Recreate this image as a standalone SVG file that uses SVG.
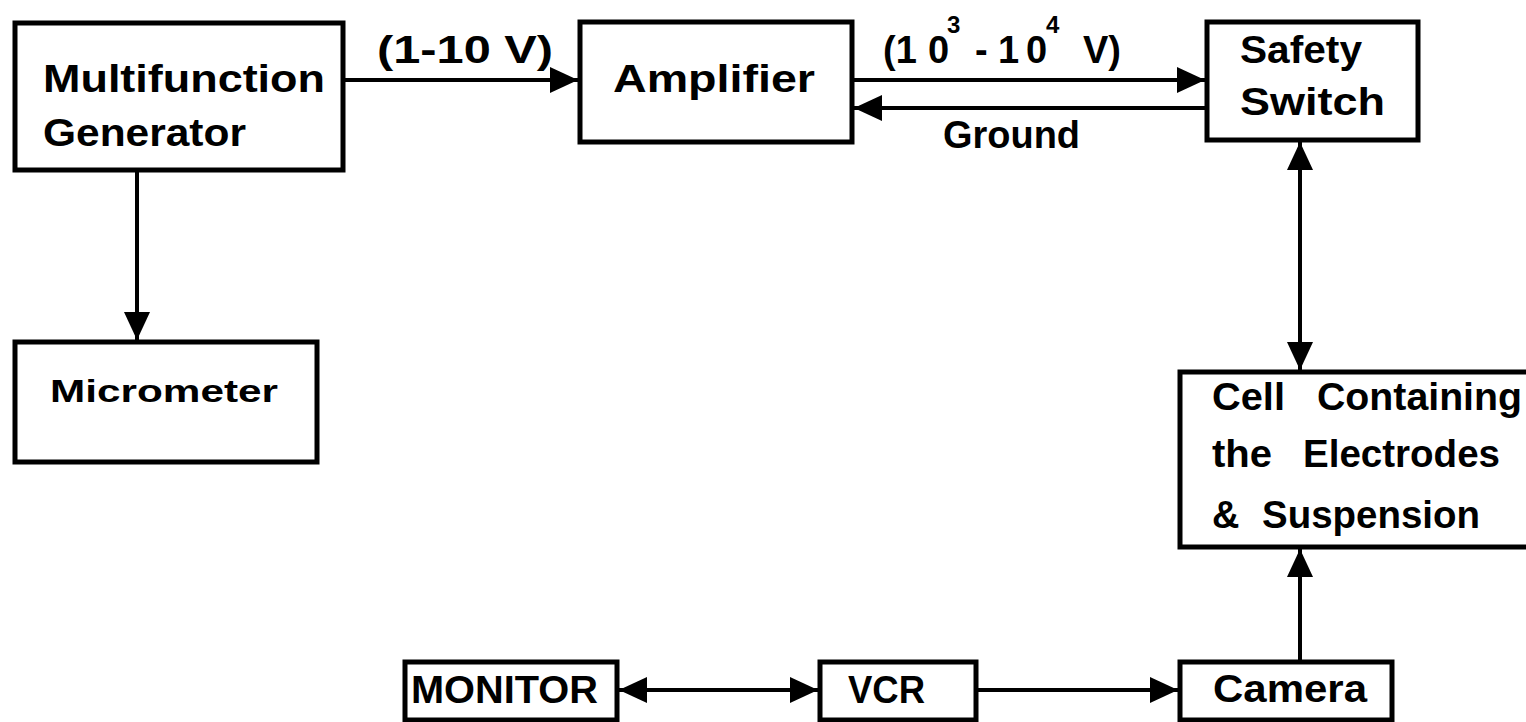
<svg xmlns="http://www.w3.org/2000/svg" width="1526" height="722" viewBox="0 0 1526 722">
<style>
.box{fill:#fff;stroke:#000;stroke-width:5}
.lbl{font-family:"Liberation Sans",Arial,sans-serif;font-weight:bold;font-size:38px;fill:#000}
.sup{font-size:24px}
.con{stroke:#000;stroke-width:4;fill:none}
</style>
<defs>
<marker id="ah" markerUnits="userSpaceOnUse" markerWidth="28" markerHeight="26" refX="28" refY="13" orient="auto-start-reverse" viewBox="0 0 28 26">
<path d="M0,0 L28,13 L0,26 Z" fill="#000"/>
</marker>
</defs>
<rect width="1526" height="722" fill="#fff"/>
<g id="connectors">
<line class="con" x1="343" y1="80" x2="578" y2="80" marker-end="url(#ah)"/>
<line class="con" x1="852" y1="80" x2="1205" y2="80" marker-end="url(#ah)"/>
<line class="con" x1="1207" y1="108" x2="854" y2="108" marker-end="url(#ah)"/>
<line class="con" x1="137" y1="170" x2="137" y2="340" marker-end="url(#ah)"/>
<line class="con" x1="1300" y1="142" x2="1300" y2="370" marker-start="url(#ah)" marker-end="url(#ah)"/>
<line class="con" x1="1300" y1="662" x2="1300" y2="549" marker-end="url(#ah)"/>
<line class="con" x1="976" y1="690" x2="1178" y2="690" marker-end="url(#ah)"/>
<line class="con" x1="619" y1="690" x2="818" y2="690" marker-start="url(#ah)" marker-end="url(#ah)"/>
<text class="lbl" x="377" y="63" textLength="176" lengthAdjust="spacingAndGlyphs">(1-10  V)</text>
<text class="lbl"><tspan x="883" y="63">(1</tspan><tspan x="928" y="63">0</tspan><tspan class="sup" x="947" y="33">3</tspan><tspan x="975" y="63">-</tspan><tspan x="998" y="63">1</tspan><tspan x="1026" y="63">0</tspan><tspan class="sup" x="1046" y="33">4</tspan><tspan x="1083" y="63">V)</tspan></text>
<text class="lbl" x="943" y="148" textLength="137" lengthAdjust="spacingAndGlyphs">Ground</text>
</g>
<g id="generator">
<rect class="box" x="15" y="23" width="328" height="147"/>
<text class="lbl" x="43" y="92" textLength="282" lengthAdjust="spacingAndGlyphs">Multifunction</text>
<text class="lbl" x="43" y="146" textLength="203" lengthAdjust="spacingAndGlyphs">Generator</text>
</g>
<g id="amplifier">
<rect class="box" x="580" y="22" width="272" height="120"/>
<text class="lbl" x="613" y="92" textLength="202" lengthAdjust="spacingAndGlyphs">Amplifier</text>
</g>
<g id="safety">
<rect class="box" x="1207" y="22" width="211" height="118"/>
<text class="lbl" x="1240" y="63" textLength="122" lengthAdjust="spacingAndGlyphs">Safety</text>
<text class="lbl" x="1240" y="115" textLength="145" lengthAdjust="spacingAndGlyphs">Switch</text>
</g>
<g id="micrometer">
<rect class="box" x="15" y="342" width="302" height="120"/>
<text class="lbl" x="50" y="402" style="font-size:32px" textLength="228" lengthAdjust="spacingAndGlyphs">Micrometer</text>
</g>
<g id="cell">
<rect class="box" x="1180" y="372" width="400" height="175"/>
<text class="lbl" x="1212" y="410" textLength="73" lengthAdjust="spacingAndGlyphs">Cell</text>
<text class="lbl" x="1317" y="410" textLength="205" lengthAdjust="spacingAndGlyphs">Containing</text>
<text class="lbl" x="1212" y="467" textLength="60" lengthAdjust="spacingAndGlyphs">the</text>
<text class="lbl" x="1303" y="467" textLength="197" lengthAdjust="spacingAndGlyphs">Electrodes</text>
<text class="lbl" x="1212" y="528">&amp;</text>
<text class="lbl" x="1262" y="528" textLength="218" lengthAdjust="spacingAndGlyphs">Suspension</text>
</g>
<g id="camera">
<rect class="box" x="1180" y="662" width="212" height="58"/>
<text class="lbl" x="1213" y="702" textLength="154" lengthAdjust="spacingAndGlyphs">Camera</text>
</g>
<g id="vcr">
<rect class="box" x="820" y="662" width="156" height="58"/>
<text class="lbl" x="848" y="703" textLength="77" lengthAdjust="spacingAndGlyphs">VCR</text>
</g>
<g id="monitor">
<rect class="box" x="405" y="662" width="212" height="58"/>
<text class="lbl" x="411" y="703" textLength="187" lengthAdjust="spacingAndGlyphs">MONITOR</text>
</g>
</svg>
